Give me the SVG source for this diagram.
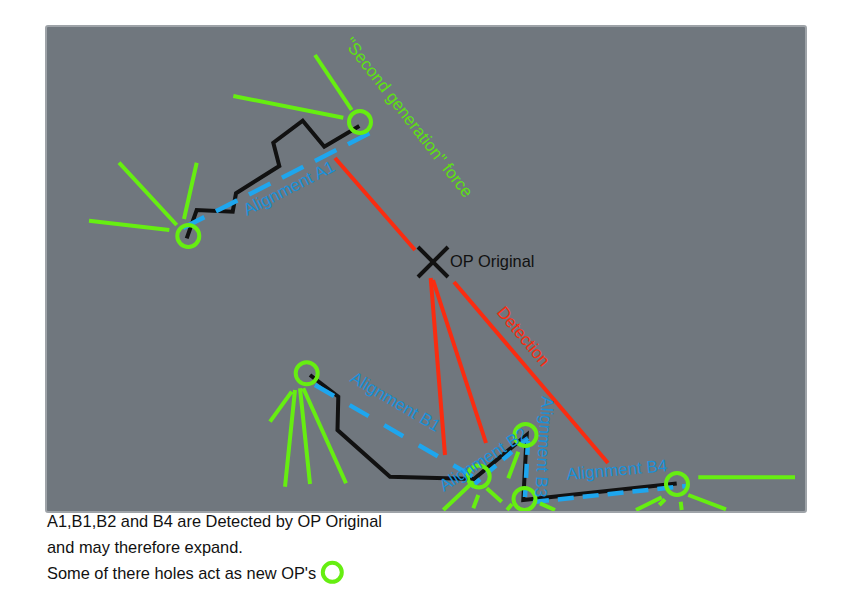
<svg xmlns="http://www.w3.org/2000/svg" width="863" height="608" viewBox="0 0 863 608">
<style>
.blk{fill:none;stroke:#111;stroke-width:4;stroke-linejoin:miter;stroke-linecap:butt}
.blu{fill:none;stroke:#1ea6ee;stroke-width:4.5}
.red{fill:none;stroke:#fa2c10;stroke-width:4}
.grn{fill:none;stroke:#66ee11;stroke-width:4}
.hole{fill:none;stroke:#66ee11;stroke-width:4}
.lbl{font-family:"Liberation Sans",Arial,sans-serif;font-size:16.4px}
.big{font-size:17px}
.bt{fill:#1a90d8}
.gt{fill:#5ee012}
.rt{fill:#fa2c10}
.kt{fill:#111}
</style>
<defs>
<clipPath id="pc"><rect x="47" y="27" width="758" height="484"/></clipPath>
</defs>
<rect x="0" y="0" width="863" height="608" fill="#ffffff"/>
<rect id="panel" x="46" y="26" width="760" height="486" rx="2" fill="#70777e" stroke="#9ea3a8" stroke-width="2"/>
<g clip-path="url(#pc)">
<g id="connectors">
<path class="blk" d="M186.7,238.3 L196.7,210 L232.7,211.7 L236,193.3 L279.3,166 L273.3,142.7 L302.7,120.7 L324.3,146.7 L359.3,126"/>
<path class="blu" d="M183,228 L370,133" stroke-dasharray="24 13"/>
<path class="blk" d="M310,375 L338.3,396.7 L337.5,430 L390,476.7 L474,479 L526.7,435 L523.3,500 L676.7,483.5"/>
<path class="blu" d="M315,385 L477,479" stroke-dasharray="22 18"/>
<path class="blu" d="M471,487 L528,438" stroke-dasharray="12 9"/>
<path class="blu" d="M528,441 L525,497" stroke-dasharray="14 9"/>
<path class="blu" d="M533,502 L686,486" stroke-dasharray="16 9"/>
<path class="red" d="M335,158 L415,250"/>
<path class="red" d="M430.7,278 L445,455"/>
<path class="red" d="M433,280 L486,443"/>
<path class="red" d="M454,282 L608,463"/>
</g>
<g id="hole-a1-top">
<path class="grn" d="M315,55 L351.7,110 M233.3,96 L343.3,117.7"/>
<circle class="hole" cx="360" cy="122" r="11"/>
</g>
<g id="hole-a1-bottom">
<path class="grn" d="M119,162.7 L176.7,225 M196.7,162.7 L184,219 M89,220.7 L169.3,230"/>
<circle class="hole" cx="188.3" cy="236" r="11"/>
</g>
<g id="hole-b1">
<path class="grn" d="M291.7,391.7 L270,421.7 M295,390 L285,486.7 M300,388.3 L310,484 M303.3,388.3 L346,483.3"/>
<circle class="hole" cx="306.7" cy="373.3" r="11"/>
</g>
<g id="hole-b2">
<path class="grn" d="M473.3,481.7 L443.3,510 M478.3,495 L473.3,508.3 M486.7,488.3 L501.7,501.7"/>
<circle class="hole" cx="478.7" cy="476.5" r="11"/>
</g>
<g id="hole-b3-top">
<path class="grn" d="M518.3,451.7 L508.3,478.3"/>
<circle class="hole" cx="525.5" cy="435" r="11"/>
</g>
<g id="hole-b3-bottom">
<path class="grn" d="M512,504 L507,510 M540,503.3 L555,510"/>
<circle class="hole" cx="524.5" cy="499" r="11"/>
</g>
<g id="hole-b4">
<path class="grn" d="M698.3,477.3 L795,477.3 M661.7,497.3 L636,510 M665,499.3 L659.3,505 M680.7,501.7 L681.7,510 M688.3,495 L726,509.3"/>
<circle class="hole" cx="677" cy="484" r="11"/>
</g>
<g id="op-original">
<path d="M418,247 L448,277 M448,247 L418,277" fill="none" stroke="#111" stroke-width="4"/>
<text class="lbl kt" x="450" y="267">OP Original</text>
</g>
<g id="labels">
<text class="lbl big gt" text-anchor="middle" transform="translate(404,121) rotate(52)">"Second generation" force</text>
<text class="lbl big bt" transform="translate(247,216) rotate(-27)">Alignment A1</text>
<text class="lbl big rt" text-anchor="middle" transform="translate(519,340) rotate(50)">Detection</text>
<text class="lbl big bt" transform="translate(349,381) rotate(30.5)">Alignment B1</text>
<text class="lbl big bt" transform="translate(444,492) rotate(-33)">Alignment B2</text>
<text class="lbl big bt" transform="translate(542,396) rotate(94)">Alignment B3</text>
<text class="lbl big bt" transform="translate(567,480) rotate(-5)">Alignment B4</text>
</g>
</g>
<g id="legend">
<text class="lbl kt" x="47" y="527">A1,B1,B2 and B4 are Detected by OP Original</text>
<text class="lbl kt" x="47" y="553">and may therefore expand.</text>
<text class="lbl kt" x="47" y="579">Some of there holes act as new OP's</text>
<circle class="hole" cx="332.3" cy="572.3" r="9.5"/>
</g>
</svg>
